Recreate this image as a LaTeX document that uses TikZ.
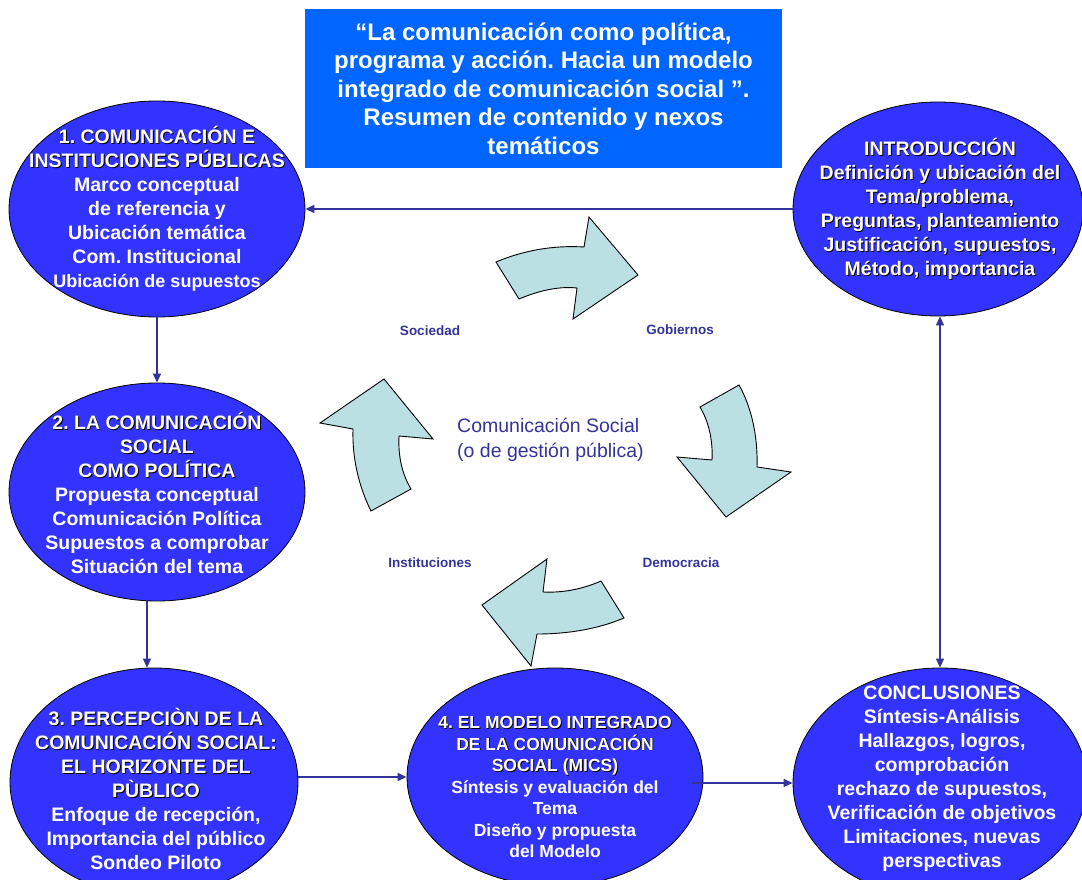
\documentclass[tikz,border=0pt]{standalone}
\usepackage{fontspec}
\setmainfont{Liberation Sans}
\usetikzlibrary{arrows.meta,shapes.geometric}
\definecolor{titleblue}{HTML}{0066FF}
\definecolor{ellblue}{HTML}{3333FF}
\definecolor{linkblue}{HTML}{333399}
\definecolor{arrowfill}{HTML}{BBE0E3}
\newcommand\shd[1]{\rlap{\kern0.9pt\raisebox{-0.9pt}{\textcolor{black}{#1}}}#1}
\frenchspacing
\begin{document}
\begin{tikzpicture}[x=1pt,y=-1pt,
  ell/.style={ellipse, draw=black, line width=0.8pt, fill=ellblue, inner sep=0pt},
  etext/.style={text=white, font=\bfseries\fontsize{19.5}{24}\selectfont, align=center, inner sep=0pt},
  etextsm/.style={text=white, font=\bfseries\fontsize{17.5}{21.5}\selectfont, align=center, inner sep=0pt},
  conn/.style={draw=linkblue, line width=1.5pt, -{Triangle[length=9pt,width=8pt]}},
  conntwo/.style={draw=linkblue, line width=1.5pt, {Triangle[length=9pt,width=8pt]}-{Triangle[length=9pt,width=8pt]}},
  curv/.style={fill=arrowfill, draw=black, line width=0.9pt, line join=miter},
  lab/.style={text=linkblue, font=\bfseries\fontsize{13.5}{15}\selectfont, inner sep=0pt}]
\useasboundingbox (0,0) rectangle (1082,880);

% title
\node[fill=titleblue, minimum width=477pt, minimum height=159pt, inner sep=0pt,
      text=white, font=\bfseries\fontsize{24}{28.5}\selectfont, align=center] (title) at (543.5,88.5)
  {“La comunicación como política,\\programa y acción. Hacia un modelo\\integrado de comunicación social ”.\\Resumen de contenido y nexos\\temáticos};

% ellipses
\node[ell, minimum width=296pt, minimum height=216pt] (e1) at (157,209) {};
\node[ell, minimum width=296pt, minimum height=218pt] (e2) at (157,492) {};
\node[ell, minimum width=288pt, minimum height=228pt] (e3) at (154,782) {};
\node[ell, minimum width=296pt, minimum height=218pt] (e4) at (555,777) {};
\node[ell, minimum width=290pt, minimum height=214pt] (intro) at (938,209) {};
\node[ell, minimum width=294pt, minimum height=230pt] (conc) at (940,783) {};

% ellipse texts
\node[etext] (t1) at (157,209) {\shd{1. COMUNICACIÓN E}\\\shd{INSTITUCIONES PÚBLICAS}\\Marco conceptual\\de referencia y\\Ubicación temática\\Com. Institucional\\{\fontsize{18}{24}\selectfont Ubicación de supuestos}};
\node[etext] (t2) at (157,493) {\shd{2. LA COMUNICACIÓN}\\\shd{SOCIAL}\\\shd{COMO POLÍTICA}\\Propuesta conceptual\\Comunicación Política\\Supuestos a comprobar\\Situación del tema};
\node[etext] (t3) at (156,789) {\shd{3. PERCEPCIÒN DE LA}\\\shd{COMUNICACIÓN SOCIAL:}\\\shd{EL HORIZONTE DEL}\\\shd{PÙBLICO}\\Enfoque de recepción,\\Importancia del público\\Sondeo Piloto};
\node[etextsm] (t4) at (555,787) {\shd{4. EL MODELO INTEGRADO}\\\shd{DE LA COMUNICACIÓN}\\\shd{SOCIAL (MICS)}\\Síntesis y evaluación del\\Tema\\Diseño y propuesta\\del Modelo};
\node[etext] (tintro) at (940,209) {\shd{INTRODUCCIÓN}\\\shd{Definición y ubicación del}\\\shd{Tema/problema,}\\\shd{Preguntas, planteamiento}\\\shd{Justificación, supuestos,}\\\shd{Método, importancia}};
\node[etext] (tconc) at (942,779) {CONCLUSIONES\\Síntesis-Análisis\\Hallazgos, logros,\\comprobación\\rechazo de supuestos,\\Verificación de objetivos\\Limitaciones, nuevas\\perspectivas};

% connectors
\draw[conn] (intro.west) -- (e1.east);
\draw[conn] (e1.south) -- (e2.north);
\draw[conn] ([xshift=-10pt]e2.south) -- ([xshift=-7pt]e3.north);
\draw[conn] (e3.east |- e4.west) -- (e4.west);
\draw[conn] ([xshift=-11pt]e4.east |- conc.west) -- (conc.west);
\draw[conntwo] (intro.south -| conc.north) -- (conc.north);

% curved cycle arrows
\path[curv] (496,262) .. controls (522,251) and (552,245) .. (584,247) -- (589,217) -- (638,275) -- (573,319) -- (577,288) .. controls (558,286) and (538,291) .. (519,299) -- cycle;
\path[curv] (739,385) .. controls (752,408) and (758,438) .. (757,467) -- (791,472) -- (726,517) -- (677,457) -- (712,460) .. controls (713,441) and (709,422) .. (700,407) -- cycle;
\path[curv] (624,618) .. controls (598,629) and (568,634) .. (537,634) -- (531,666) -- (482,605) -- (547,559) -- (543,592) .. controls (563,593) and (583,589) .. (601,581) -- cycle;
\path[curv] (371,511) .. controls (359,487) and (352,458) .. (353,429) -- (320,423) -- (384,379) -- (433,439) -- (399,436) .. controls (398,456) and (402,474) .. (411,489) -- cycle;

% labels
\node[lab] (soc) at (430,331) {Sociedad};
\node[lab] (gob) at (680,330) {Gobiernos};
\node[lab] (ins) at (430,563) {Instituciones};
\node[lab] (dem) at (681,563) {Democracia};
\node[text=linkblue, font=\fontsize{19.5}{25}\selectfont, align=left, anchor=west, inner sep=0pt] (cs) at (457,440) {Comunicación Social\\(o de gestión pública)};
\end{tikzpicture}
\end{document}
